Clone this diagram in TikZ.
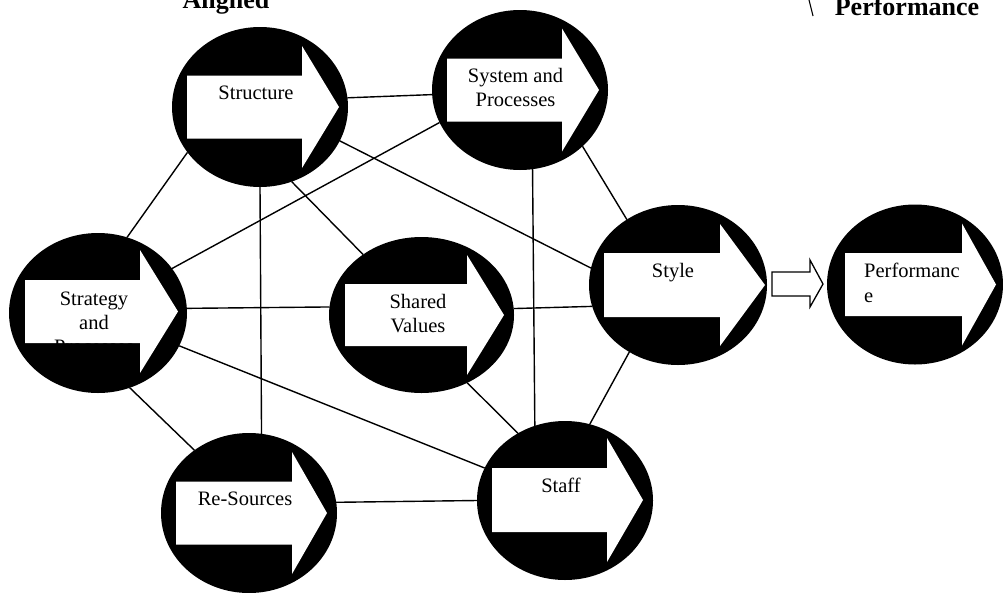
\documentclass[tikz,border=0pt]{standalone}
\usepackage{fontspec}
\setmainfont{Liberation Serif}
\usetikzlibrary{shapes.geometric}
\tikzset{
  disc/.style={ellipse, fill=black, inner sep=0pt, outer sep=0pt, minimum width=176pt, minimum height=160pt},
  lbl/.style={font=\fontsize{20.5}{24}\selectfont, inner sep=0pt, anchor=base},
  lblw/.style={lbl, anchor=base west},
  ttl/.style={font=\fontsize{26}{30}\selectfont\bfseries, inner sep=0pt, anchor=base},
  link/.style={line width=1.4pt},
  hollow/.style={line width=1.3pt, fill=white, line join=miter},
}
% #1 cy, #2 shaft left, #3 shaft end, #4 tip, #5 shaft half, #6 head half
\newcommand\blockarr[6]{%
  \fill[white] (#2,#1-#5) -- (#3,#1-#5) -- (#3,#1-#6) -- (#4,#1) -- (#3,#1+#6) -- (#3,#1+#5) -- (#2,#1+#5) -- cycle;}
\begin{document}
\begin{tikzpicture}[x=1pt,y=-1pt]
\useasboundingbox (0,0) rectangle (1003,592);
\clip (0,0) rectangle (1003,592);
% circles
\node[disc] (st) at (260,107) {};
\node[disc] (sp) at (520,90) {};
\node[disc, minimum width=178pt] (sg) at (98,313) {};
\node[disc, minimum width=185pt, minimum height=156pt] (sv) at (421.5,315) {};
\node[disc, minimum width=178pt] (sy) at (678,285) {};
\node[disc] (pf) at (915,284.5) {};
\node[disc] (rs) at (249,513) {};
\node[disc, minimum height=159pt] (sf) at (565,500.5) {};
% connectors
\draw[link] (st.6.5) -- (sp.183.5);
\draw[link] (st.212.2) -- (sg.69);
\draw[link] (st.270.7) -- (rs.81.4);
\draw[link] (st.293.1) -- (sv.134.8);
\draw[link] (st.337.8) -- (sy.169.1);
\draw[link] (sp.202.2) -- (sg.31);
\draw[link] (sp.318.8) -- (sy.128.3);
\draw[link] (sp.279.9) -- (sf.112.6);
\draw[link] (sg.3.9) -- (sv.175.1);
\draw[link] (sg.293.1) -- (rs.131.6);
\draw[link] (sg.338.1) -- (sf.158.4);
\draw[link] (sv.4.9) -- (sy.194.3);
\draw[link] (sv.304.9) -- (sf.125.4);
\draw[link] (sy.234.8) -- (sf.72.8);
\draw[link] (rs.7.8) -- (sf.180.3);
% white arrows
\blockarr{107}{187}{302}{339}{31.5}{61}
\blockarr{90}{447}{562}{599}{31.5}{61.5}
\blockarr{311.5}{25}{140}{178}{31.5}{61.5}
\blockarr{315}{345}{467}{504}{31}{60}
\blockarr{285}{604}{720}{765}{32}{61}
\blockarr{284.5}{845}{962}{996}{31.5}{61}
\blockarr{513}{176}{292}{327}{31.5}{61}
\blockarr{500}{492}{607}{643}{32}{62}
% hollow arrow Style -> Performance
\draw[hollow] (772,272) -- (810,272) -- (810,260) -- (823,284) -- (810,307) -- (810,296) -- (772,296) -- cycle;
% labels
\node[lbl] (tst) at (256,99) {Structure};
\node[lbl] (tsp1) at (515.5,82) {System and};
\node[lbl] (tsp2) at (515.5,106) {Processes};
\begin{scope}
\clip (25,280) rectangle (140,343);
\node[lbl] (tsg1) at (94,305) {Strategy};
\node[lbl] (tsg2) at (94,329) {and};
\node[lbl] (tsg3) at (94,353) {Processes};
\end{scope}
\node[lbl] (tsv1) at (418,308) {Shared};
\node[lbl] (tsv2) at (418,332) {Values};
\node[lbl] (tsy) at (673,277) {Style};
\node[lblw] (tpf1) at (864,277) {Performanc};
\node[lblw] (tpf2) at (864,302) {e};
\node[lbl] (trs) at (245,505) {Re-Sources};
\node[lbl] (tsf) at (561,492) {Staff};
% titles
\node[ttl] (tal) at (226,8) {Aligned};
\node[ttl] (tpt) at (907,15.5) {Performance};
\draw[line width=1.1pt] (809,0) -- (813,16);
\end{tikzpicture}
\end{document}
